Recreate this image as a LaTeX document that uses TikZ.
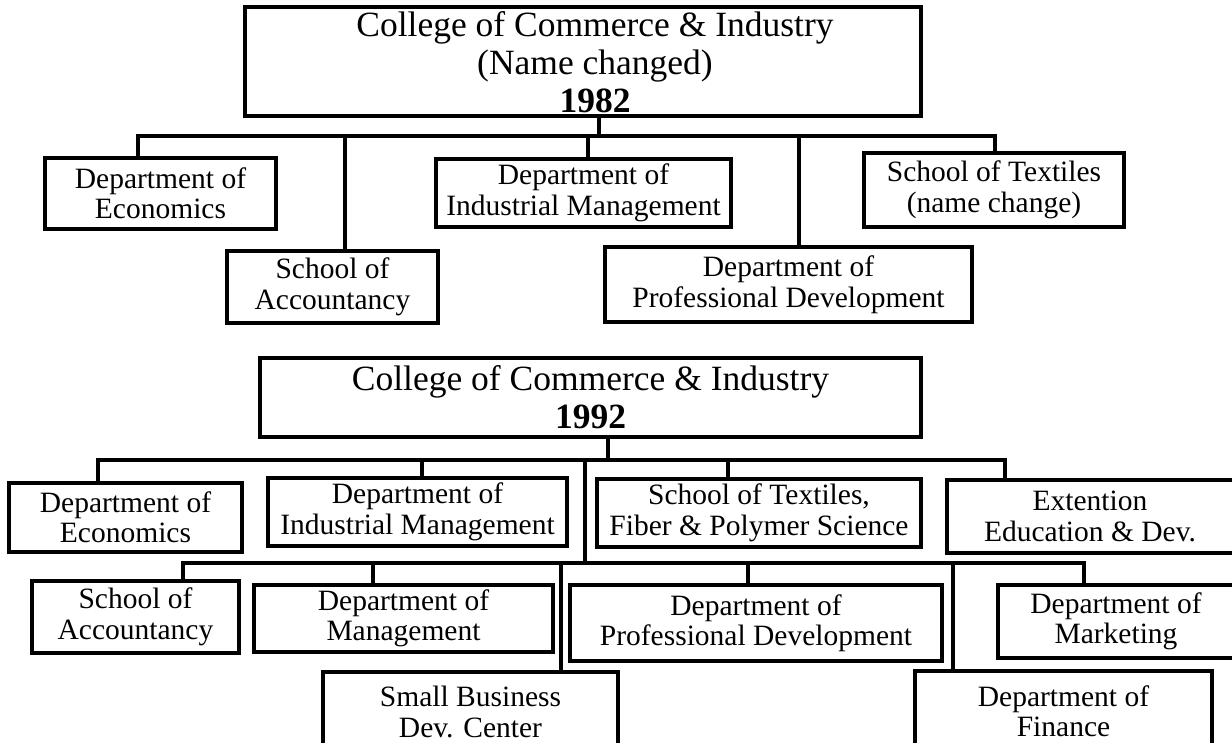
\documentclass[tikz,border=0pt]{standalone}
\usepackage{fontspec}
\setmainfont{Liberation Serif}
\newcommand{\cbfont}{\fontsize{29.5}{30.5}\selectfont}
\newcommand{\ctfont}{\fontsize{35.5}{38}\selectfont}
\tikzset{
  box/.style={draw, line width=3.1pt, inner sep=0pt, align=center, font=\cbfont},
  tbox/.style={box, font=\ctfont},
  txt/.style={inner sep=0pt, align=center, font=\cbfont},
  ttxt/.style={txt, font=\ctfont},
  conn/.style={line width=3.1pt, line cap=rect},
}
\begin{document}
\begin{tikzpicture}[x=1pt,y=-1pt]
\useasboundingbox (0,0) rectangle (1232,742);
\clip (0,0) rectangle (1232,742);
\fill[white] (0,0) rectangle (1232,742);

% ---------------- 1982 ----------------
\node[tbox, minimum width=676, minimum height=109] (T82) at (583,61.5) {};
\node[ttxt] (T82t) at (595,62)
  {College of Commerce \& Industry\\(Name changed)\\\textbf{1982}};
\node[box, minimum width=231, minimum height=71] (E82) at (160.5,193.5)
  {Department of\\Economics};
\node[box, minimum width=211, minimum height=72] (A82) at (332.5,287)
  {School of\\Accountancy};
\node[box, minimum width=295, minimum height=68] (I82) at (583.5,193)
  {Department of\\Industrial Management};
\node[box, minimum width=367, minimum height=75] (P82) at (788.5,284.5)
  {Department of\\Professional Development};
\node[box, minimum width=260, minimum height=74] (X82) at (994,190)
  {School of Textiles\\(name change)};

\coordinate (s82) at (599,136);
\coordinate (b82a) at (138,136);
\coordinate (b82b) at (345,136);
\coordinate (b82c) at (588,136);
\coordinate (b82d) at (799,136);
\coordinate (b82e) at (995,136);
\draw[conn] (s82 |- T82.south) -- (s82);
\draw[conn] (b82a) -- (b82e);
\draw[conn] (b82a) -- (b82a |- E82.north);
\draw[conn] (b82b) -- (b82b |- A82.north);
\draw[conn] (b82c) -- (b82c |- I82.north);
\draw[conn] (b82d) -- (b82d |- P82.north);
\draw[conn] (b82e) -- (b82e |- X82.north);

% ---------------- 1992 ----------------
\node[tbox, minimum width=661, minimum height=79] (T92) at (590.5,397.5)
  {College of Commerce \& Industry\\\textbf{1992}};
\node[box, minimum width=233, minimum height=69] (E92) at (125.5,517.5)
  {Department of\\Economics};
\node[box, minimum width=299, minimum height=68] (I92) at (417.5,512)
  {Department of\\Industrial Management};
\node[box, minimum width=324, minimum height=68] (X92) at (759,513)
  {School of Textiles,\\Fiber \& Polymer Science};
\node[box, minimum width=298, minimum height=73] (D92) at (1096,516.5) {};
\node[txt] (D92t) at (1090,516.5) {Extention\\Education \& Dev.};

\node[box, minimum width=207, minimum height=72] (A92) at (135.5,617)
  {School of\\Accountancy};
\node[box, minimum width=299, minimum height=67] (M92) at (403.5,618.5)
  {Department of\\Management};
\node[box, minimum width=372, minimum height=76] (P92) at (756,623)
  {Department of\\Professional Development};
\node[box, minimum width=247, minimum height=73] (K92) at (1121.5,621.5) {};
\node[txt] (K92t) at (1116,621.5) {Department of\\Marketing};
\node[box, minimum width=295, minimum height=80] (S92) at (470.5,712)
  {Small Business\\Dev. Center};
\node[box, minimum width=297, minimum height=80] (F92) at (1063.5,711)
  {Department of\\Finance};

\coordinate (s92) at (608,460);
\coordinate (b92a) at (98,460);
\coordinate (b92b) at (422,460);
\coordinate (b92c) at (728,460);
\coordinate (b92d) at (1005,460);
\coordinate (v92) at (585,460);
\coordinate (c92a) at (183,563);
\coordinate (c92b) at (373,563);
\coordinate (c92c) at (561,563);
\coordinate (c92v) at (585,563);
\coordinate (c92d) at (748,563);
\coordinate (c92e) at (953,563);
\coordinate (c92f) at (1084,563);
\draw[conn] (s92 |- T92.south) -- (s92);
\draw[conn] (b92a) -- (b92d);
\draw[conn] (b92a) -- (b92a |- E92.north);
\draw[conn] (b92b) -- (b92b |- I92.north);
\draw[conn] (b92c) -- (b92c |- X92.north);
\draw[conn] (b92d) -- (b92d |- D92.north);
\draw[conn] (v92) -- (c92v);
\draw[conn] (c92a) -- (c92f);
\draw[conn] (c92a) -- (c92a |- A92.north);
\draw[conn] (c92b) -- (c92b |- M92.north);
\draw[conn] (c92c) -- (c92c |- S92.north);
\draw[conn] (c92d) -- (c92d |- P92.north);
\draw[conn] (c92e) -- (c92e |- F92.north);
\draw[conn] (c92f) -- (c92f |- K92.north);
\end{tikzpicture}
\end{document}
